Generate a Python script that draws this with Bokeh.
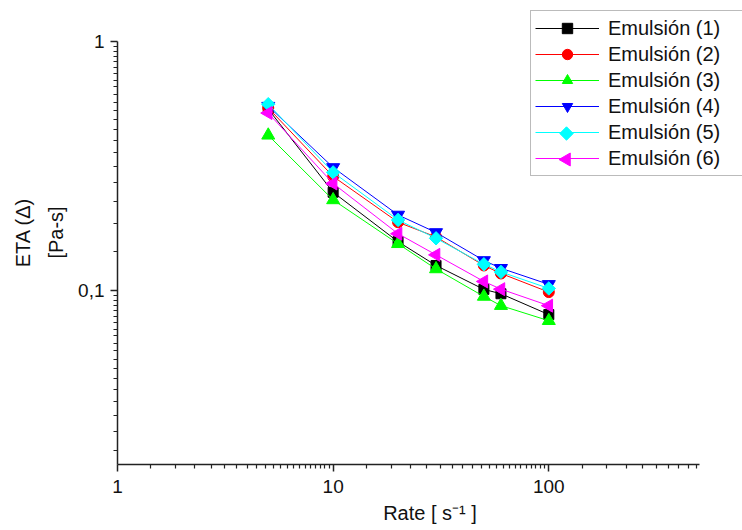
import math
from bokeh.plotting import figure
from bokeh.models import (Range1d, FixedTicker, CustomJSTickFormatter, Legend, LegendItem)
from bokeh.embed import file_html
from bokeh.resources import INLINE

rate = [5, 10, 20, 30, 50, 60, 100]
emul1 = [0.535, 0.248, 0.157, 0.126, 0.101, 0.097, 0.080]
emul2 = [0.541, 0.287, 0.188, 0.164, 0.126, 0.117, 0.0985]
emul3 = [0.420, 0.231, 0.154, 0.122, 0.0946, 0.0869, 0.0756]
emul4 = [0.550, 0.312, 0.201, 0.171, 0.132, 0.1228, 0.1058]
emul5 = [0.560, 0.298, 0.192, 0.162, 0.1274, 0.1187, 0.1019]
emul6 = [0.516, 0.269, 0.169, 0.139, 0.1087, 0.1012, 0.0869]
names = ["Emulsión (1)", "Emulsión (2)", "Emulsión (3)", "Emulsión (4)", "Emulsión (5)", "Emulsión (6)"]
x_major = [1, 10, 100, 1000]
y_major = [0.01, 0.1, 1]
x_bounds = (1, 500)
y_bounds = (0.02, 1)
X_RANGE = (1, 791)
Y_RANGE = (0.02, 1.461)

FONT = "Liberation Sans"
W, H = 742, 530
BL, BB = 117, 66          # left / bottom borders
FW, FH = W - BL, H - BB   # frame size (frame reaches canvas top/right)

p = figure(width=W, height=H, x_axis_type="log", y_axis_type="log",
           x_range=Range1d(*X_RANGE), y_range=Range1d(*Y_RANGE),
           output_backend="svg", toolbar_location=None,
           min_border_left=BL, min_border_top=0, min_border_right=0, min_border_bottom=BB)
p.outline_line_color = None
p.grid.visible = False
p.background_fill_color = "white"
p.border_fill_color = "white"

def minors(decades, bounds, n=21):
    out = []
    for d in decades:
        for k in range(1, n):
            v = d + k * 9 * d / n
            if bounds[0] <= v <= bounds[1]:
                out.append(v)
    return out

p.xaxis.ticker = FixedTicker(ticks=x_major, minor_ticks=minors([1, 10, 100], x_bounds))
p.yaxis.ticker = FixedTicker(ticks=y_major, minor_ticks=minors([0.01, 0.1], y_bounds))
p.yaxis.formatter = CustomJSTickFormatter(code="return tick.toString().replace('.', ',')")
p.xaxis.formatter = CustomJSTickFormatter(code="return tick.toString()")
p.xaxis.bounds = x_bounds
p.yaxis.bounds = y_bounds

for ax in (p.xaxis, p.yaxis):
    ax.axis_line_width = 1.5
    ax.axis_line_color = "#222222"
    ax.major_tick_line_color = "#222222"
    ax.minor_tick_line_color = "#222222"
    ax.major_tick_line_width = 1.5
    ax.minor_tick_line_width = 1.2
    ax.major_tick_out = 7
    ax.major_tick_in = 0
    ax.minor_tick_out = 4
    ax.minor_tick_in = 0
    ax.major_label_text_font = FONT
    ax.major_label_text_font_size = "19px"
    ax.major_label_text_color = "#111111"
    ax.axis_label_text_font = FONT
    ax.axis_label_text_font_size = "20px"
    ax.axis_label_text_font_style = "normal"
    ax.axis_label_text_color = "#111111"
p.xaxis.major_label_standoff = 8
p.yaxis.major_label_standoff = 6
p.xaxis.axis_label = "Rate [ s\u207b\u00b9 ]"
p.yaxis.axis_label = "ETA (Δ)\n[Pa-s]"
p.yaxis.axis_label_text_line_height = 1.5
p.xaxis.axis_label_standoff = 6
p.yaxis.axis_label_standoff = 8

series = [emul1, emul2, emul3, emul4, emul5, emul6]
colors = ["#000000", "#FF0000", "#00FF00", "#0000FF", "#00FFFF", "#FF00FF"]
markers = ["square", "circle", "triangle", "inverted_triangle", "square", "triangle"]
sizes = [10, 11, 13, 13, 9.5, 13]
angles = [0, 0, 0, 0, math.pi / 4, math.pi / 2]

# legend layout (screen px relative to the frame's bottom-left)
LEG_X, LEG_Y, PAD, GW, ROW = 413, 288, 4, 64, 26

def frame_to_data(px, py):
    lx0, lx1 = math.log10(X_RANGE[0]), math.log10(X_RANGE[1])
    ly0, ly1 = math.log10(Y_RANGE[0]), math.log10(Y_RANGE[1])
    return 10 ** (lx0 + px / FW * (lx1 - lx0)), 10 ** (ly0 + py / FH * (ly1 - ly0))

items = []
n = len(names)
for i, (name, ys, c, m, s, a) in enumerate(zip(names, series, colors, markers, sizes, angles)):
    ln = p.line(rate, ys, line_color=c, line_width=1)
    sc = p.scatter(rate, ys, marker=m, size=s, angle=a, fill_color=c, line_color=c)
    if a == 0:
        items.append(LegendItem(label=name, renderers=[ln, sc]))
    else:
        # the legend draws markers unrotated, so the rotated legend marker is placed by hand
        items.append(LegendItem(label=name, renderers=[ln]))
        mx, my = frame_to_data(LEG_X + PAD + GW / 2, LEG_Y + PAD + (n - 1 - i) * ROW + ROW / 2)
        p.scatter([mx], [my], marker=m, size=s, angle=a, fill_color=c, line_color=c)

legend = Legend(items=items, location=(LEG_X, LEG_Y),
                label_text_font=FONT, label_text_font_size="20px",
                label_text_color="#111111",
                glyph_width=GW, glyph_height=ROW, spacing=0, padding=PAD,
                label_standoff=9, label_height=ROW, label_width=160,
                border_line_color="#777777", border_line_width=1.5,
                background_fill_alpha=0)
p.add_layout(legend, "center")

open("out.html", "w").write(file_html(p, INLINE))
